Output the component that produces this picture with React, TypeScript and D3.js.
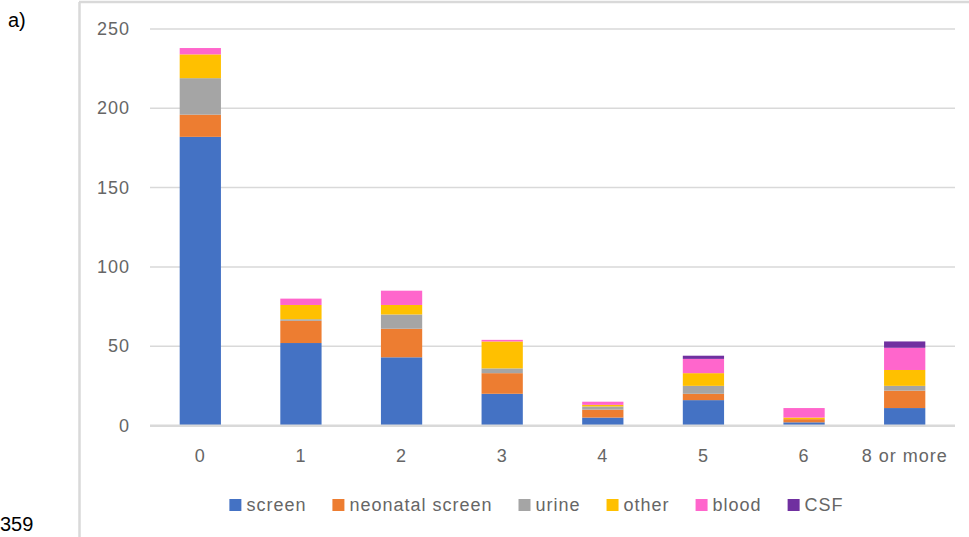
import React, { useEffect, useRef } from "react";
import * as d3 from "d3";

// categories on the x axis
const categories = ["0", "1", "2", "3", "4", "5", "6", "8 or more"];

// series, stacked bottom to top
const seriesNames = ["screen", "neonatal screen", "urine", "other", "blood", "CSF"];
const seriesColors = ["#4472c4", "#ed7d31", "#a5a5a5", "#ffc000", "#ff66cc", "#7030a0"];

const screen = [182, 52, 43, 20, 5, 16, 2, 11];
const neonatalScreen = [14, 14, 18, 13, 5, 4, 2, 11];
const urine = [23, 1, 9, 3, 2, 5, 0, 3];
const other = [15, 9, 6, 17, 1, 8, 1, 10];
const blood = [4, 4, 9, 1, 2, 9, 6, 14];
const csf = [0, 0, 0, 0, 0, 2, 0, 4];

const yTicks = [0, 50, 100, 150, 200, 250];

const App = () => {
  const svgRef = useRef<SVGSVGElement>(null);

  useEffect(() => {
    const svg = d3.select(svgRef.current);
    svg.selectAll("*").remove();

    const width = 969;
    const height = 537;
    const font = "'Liberation Sans', Arial, sans-serif";
    const textColor = "#666666";

    const rows = categories.map((c, i) => ({
      cat: c,
      "screen": screen[i],
      "neonatal screen": neonatalScreen[i],
      "urine": urine[i],
      "other": other[i],
      "blood": blood[i],
      "CSF": csf[i],
    }));

    const x = d3.scaleBand().domain(categories).range([150, 955]).padding(0);
    const y = d3.scaleLinear().domain([0, 250]).range([425.5, 29]);
    const color = d3.scaleOrdinal<string, string>().domain(seriesNames).range(seriesColors);

    // outer frame (left and top edges visible)
    svg.append("line")
      .attr("x1", 79.5).attr("x2", 79.5).attr("y1", 2).attr("y2", height)
      .attr("stroke", "#d9d9d9").attr("stroke-width", 2.5);
    svg.append("line")
      .attr("x1", 79).attr("x2", width).attr("y1", 2).attr("y2", 2)
      .attr("stroke", "#d9d9d9").attr("stroke-width", 2.5);

    svg.append("text")
      .attr("x", 8).attr("y", 27)
      .attr("font-family", font).attr("font-size", 20).attr("fill", "#000")
      .text("a)");
    svg.append("text")
      .attr("x", 0).attr("y", 531)
      .attr("font-family", font).attr("font-size", 20).attr("fill", "#000")
      .text("359");

    // gridlines
    svg.append("g")
      .selectAll("line")
      .data(yTicks.filter(t => t > 0))
      .join("line")
      .attr("x1", 150).attr("x2", 955)
      .attr("y1", d => y(d)).attr("y2", d => y(d))
      .attr("stroke", "#d9d9d9").attr("stroke-width", 1.5);

    // y labels
    svg.append("g")
      .selectAll("text")
      .data(yTicks)
      .join("text")
      .attr("x", 130)
      .attr("y", d => y(d) + 6)
      .attr("text-anchor", "end")
      .attr("font-family", font).attr("font-size", 18)
      .attr("letter-spacing", 1)
      .attr("fill", textColor)
      .text(d => d);

    // stacked bars
    const stack = d3.stack<any>().keys(seriesNames)(rows);
    const barW = x.bandwidth() * 0.41;
    svg.append("g")
      .selectAll("g")
      .data(stack)
      .join("g")
      .attr("fill", d => color(d.key))
      .selectAll("rect")
      .data(d => d)
      .join("rect")
      .attr("x", d => x(d.data.cat)! + (x.bandwidth() - barW) / 2)
      .attr("y", d => y(d[1]))
      .attr("width", barW)
      .attr("height", d => y(d[0]) - y(d[1]));

    // x axis line
    svg.append("line")
      .attr("x1", 150).attr("x2", 955)
      .attr("y1", y(0) + 0.3).attr("y2", y(0) + 0.3)
      .attr("stroke", "#d9d9d9").attr("stroke-width", 2.5);

    // x labels
    svg.append("g")
      .selectAll("text")
      .data(categories)
      .join("text")
      .attr("x", d => x(d)! + x.bandwidth() / 2)
      .attr("y", 462)
      .attr("text-anchor", "middle")
      .attr("font-family", font).attr("font-size", 18)
      .attr("letter-spacing", 1)
      .attr("fill", textColor)
      .text(d => d);

    // legend, laid out from measured text widths and centred
    const legend = svg.append("g");
    const items = legend.selectAll("g")
      .data(seriesNames)
      .join("g");
    items.append("rect")
      .attr("width", 12).attr("height", 12)
      .attr("y", 499)
      .attr("fill", d => color(d));
    items.append("text")
      .attr("x", 17)
      .attr("y", 511)
      .attr("font-family", font).attr("font-size", 18)
      .attr("letter-spacing", 1)
      .attr("fill", textColor)
      .text(d => d);

    const widths: number[] = [];
    items.selectAll<SVGTextElement, string>("text").each(function () {
      widths.push(17 + this.getComputedTextLength());
    });
    const gap = 26;
    const total = d3.sum(widths) + gap * (widths.length - 1);
    let cx = 536.5 - total / 2;
    items.attr("transform", (_d, i) => {
      const t = `translate(${cx},0)`;
      cx += widths[i] + gap;
      return t;
    });
  }, []);

  return (
    <svg
      ref={svgRef}
      width={969}
      height={537}
      style={{ position: "absolute", left: 0, top: 0, background: "#fff" }}
    ></svg>
  );
};

export default App;
